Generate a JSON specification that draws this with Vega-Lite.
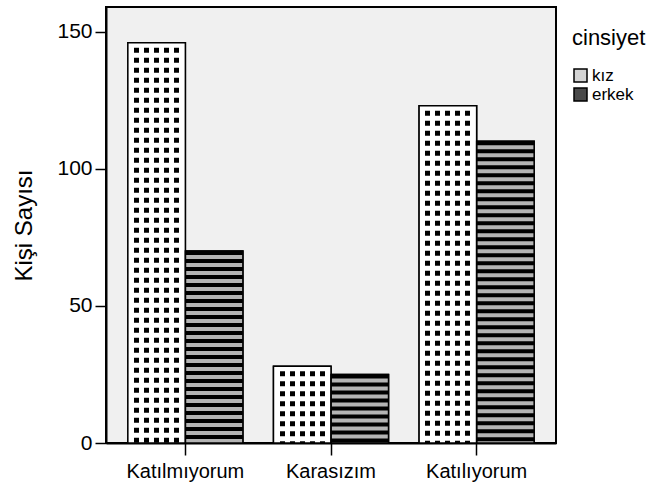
{
  "$schema": "https://vega.github.io/schema/vega-lite/v6.json",
  "autosize": {"type": "none"},
  "padding": {"left": 106, "top": 7, "right": 106, "bottom": 44},
  "width": 450,
  "height": 436,
  "background": "#ffffff",
  "data": {
    "values": [
      {"durum": "Katılmıyorum", "cinsiyet": "kız", "sayi": 146},
      {"durum": "Katılmıyorum", "cinsiyet": "erkek", "sayi": 70},
      {"durum": "Karasızım", "cinsiyet": "kız", "sayi": 28},
      {"durum": "Karasızım", "cinsiyet": "erkek", "sayi": 25},
      {"durum": "Katılıyorum", "cinsiyet": "kız", "sayi": 123},
      {"durum": "Katılıyorum", "cinsiyet": "erkek", "sayi": 110}
    ]
  },
  "encoding": {
    "x": {
      "field": "durum", "type": "nominal",
      "sort": ["Katılmıyorum", "Karasızım", "Katılıyorum"],
      "scale": {"paddingInner": 0.21, "paddingOuter": 0.15},
      "axis": {"title": null, "labelAngle": 0, "labelFontSize": 20, "tickSize": 12, "labelPadding": 6}
    },
    "y": {
      "field": "sayi", "type": "quantitative",
      "scale": {"domain": [0, 159], "nice": false},
      "axis": {"title": "Kişi Sayısı", "values": [0, 50, 100, 150], "labelFontSize": 21, "tickSize": 11, "labelPadding": 3, "titleFontSize": 24, "titlePadding": 20, "grid": false}
    },
    "xOffset": {"field": "cinsiyet", "type": "nominal", "scale": {"domain": ["kız", "erkek"]}}
  },
  "layer": [
    {
      "mark": {"type": "bar", "stroke": "#000000", "strokeWidth": 1.5},
      "encoding": {
        "color": {
          "field": "cinsiyet", "type": "nominal",
          "scale": {"domain": ["kız", "erkek"], "range": ["#d4d4d4", "#4a4a4a"]},
          "legend": {
            "title": "cinsiyet", "orient": "none", "legendX": 466, "legendY": 21,
            "titleFontSize": 22, "titleFontWeight": "normal", "titleColor": "#000000", "titlePadding": 17,
            "labelFontSize": 17, "labelColor": "#000000", "labelOffset": 3,
            "symbolType": "square", "symbolSize": 169, "symbolStrokeColor": "#000000", "symbolStrokeWidth": 1.5,
            "rowPadding": 0, "padding": 0
          }
        }
      }
    },
    {
      "transform": [{"filter": "datum.cinsiyet === 'kız'"}],
      "mark": {
        "type": "bar", "strokeWidth": 0,
        "fill": {
          "gradient": "linear", "x1": 0, "y1": 0, "x2": 1, "y2": 0,
          "stops": [
            {"offset": 0, "color": "#ffffff"},
            {"offset": 0.1087, "color": "#ffffff"},
            {"offset": 0.1087, "color": "#000000"},
            {"offset": 0.1957, "color": "#000000"},
            {"offset": 0.1957, "color": "#ffffff"},
            {"offset": 0.2826, "color": "#ffffff"},
            {"offset": 0.2826, "color": "#000000"},
            {"offset": 0.3696, "color": "#000000"},
            {"offset": 0.3696, "color": "#ffffff"},
            {"offset": 0.4565, "color": "#ffffff"},
            {"offset": 0.4565, "color": "#000000"},
            {"offset": 0.5435, "color": "#000000"},
            {"offset": 0.5435, "color": "#ffffff"},
            {"offset": 0.6304, "color": "#ffffff"},
            {"offset": 0.6304, "color": "#000000"},
            {"offset": 0.7174, "color": "#000000"},
            {"offset": 0.7174, "color": "#ffffff"},
            {"offset": 0.8043, "color": "#ffffff"},
            {"offset": 0.8043, "color": "#000000"},
            {"offset": 0.8913, "color": "#000000"},
            {"offset": 0.8913, "color": "#ffffff"},
            {"offset": 1, "color": "#ffffff"}
          ]
        }
      }
    },
    {
      "transform": [{"filter": "datum.cinsiyet === 'kız'"}],
      "mark": {"type": "rule", "stroke": "#ffffff", "strokeWidth": 57.5, "strokeDash": [5, 5]},
      "encoding": {"y2": {"datum": 0}}
    },
    {
      "transform": [{"filter": "datum.cinsiyet === 'erkek'"}],
      "mark": {"type": "bar", "fill": "#b4b4b4", "strokeWidth": 0}
    },
    {
      "transform": [{"filter": "datum.cinsiyet === 'erkek'"}],
      "mark": {"type": "rule", "stroke": "#000000", "strokeWidth": 57.5, "strokeDash": [4, 4]},
      "encoding": {"y2": {"datum": 0}}
    },
    {
      "mark": {"type": "bar", "fillOpacity": 0, "stroke": "#000000", "strokeWidth": 1.5}
    }
  ],
  "config": {
    "font": "Liberation Sans",
    "view": {"stroke": "#000000", "strokeWidth": 2, "fill": "#f0f0f0"},
    "axis": {
      "domainColor": "#000000", "domainWidth": 2,
      "tickColor": "#000000", "tickWidth": 1.5,
      "labelColor": "#000000", "titleColor": "#000000",
      "titleFontWeight": "normal", "labelFont": "Liberation Sans", "titleFont": "Liberation Sans"
    },
    "legend": {"labelFont": "Liberation Sans", "titleFont": "Liberation Sans"}
  }
}
